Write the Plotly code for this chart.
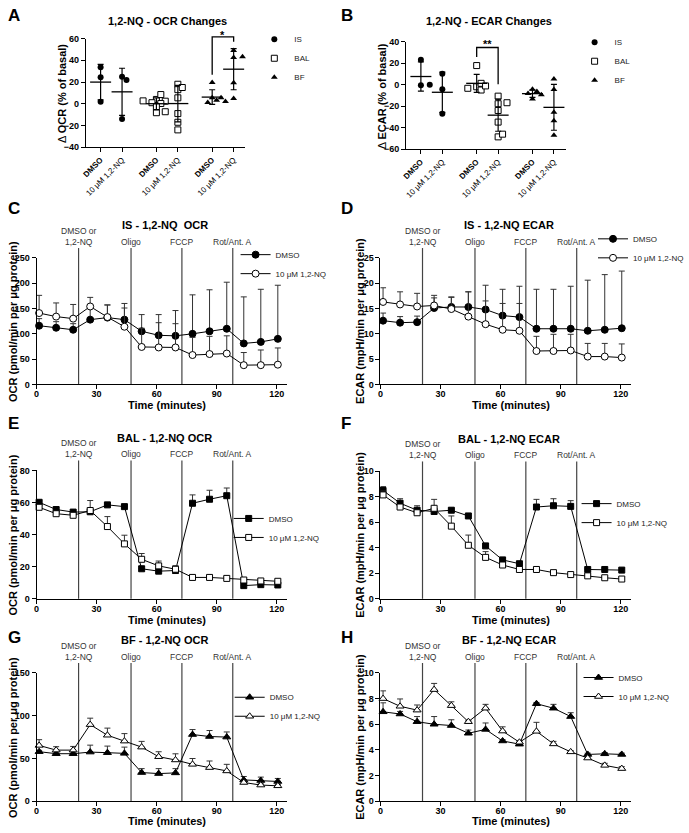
import numpy as np
import plotly.graph_objects as go

W, H = 689, 833
FONT = "Liberation Sans, Arial, Helvetica, sans-serif"

# ---------------- data: panels A / B (% change from basal) ----------------
group_names = ["IS", "BAL", "BF"]
treatment_labels = ["DMSO", "10 μM 1,2-NQ"]

ocr_is_dmso = [33.6, 24.5, 1.8]
ocr_is_nq = [25.0, 22.0, -14.0]
ocr_bal_dmso = [4.0, 8.5, 2.4, 0.3, 1.0, 2.7, -8.2, -7.3, -2.7]
ocr_bal_nq = [18.0, 13.0, 15.0, 5.5, -9.0, -17.0, -24.0]
ocr_bf_dmso = [19.5, 5.5, 3.3, 1.2, 2.0, 5.5]
ocr_bf_nq = [42.7, 43.3, 49.0, 19.4, 4.8]

ecar_is_dmso = [23.2, -0.6, 0.0]
ecar_is_nq = [10.0, -4.3, -27.0]
ecar_bal_dmso = [17.7, -2.0, 1.2, -5.0, -3.4, -1.2]
ecar_bal_nq = [-10.7, -24.0, -17.7, -16.8, -34.8, -48.5, -46.0]
ecar_bf_dmso = [-4.3, -6.4, -8.2, -13.4, -9.5]
ecar_bf_nq = [5.2, -4.6, -25.6, -33.5, -47.0]

# ---------------- data: Seahorse time courses ----------------
time_min = [1.3, 9.8, 18.3, 26.8, 35.4, 43.9, 52.5, 61.0, 69.4, 77.9, 86.4, 95.0, 103.5, 112.0, 120.5]
injection_times = [21.0, 47.2, 72.6, 98.0]
injection_labels = ["DMSO or<br>1,2-NQ", "Oligo", "FCCP", "Rot/Ant. A"]

is_ocr_dmso = [116, 112, 108, 128, 132, 128, 105, 97, 96, 100, 105, 110, 81, 84, 90]
is_ocr_dmso_err = [14, 12, 12, 25, 25, 32, 33, 41, 50, 77, 82, 92, 92, 104, 106]
is_ocr_nq = [141, 134, 130, 154, 133, 114, 74, 73, 73, 58, 60, 61, 38, 38, 39]
is_ocr_nq_err = [35, 27, 28, 18, 24, 37, 37, 49, 47, 35, 35, 35, 25, 30, 33]

is_ecar_dmso = [12.6, 12.2, 12.3, 15.1, 15.3, 15.3, 14.8, 13.6, 13.3, 11.0, 11.0, 11.0, 10.6, 10.8, 11.1]
is_ecar_dmso_err = [1.5, 1.2, 1.2, 2.0, 2.0, 3.0, 4.8, 5.2, 6.1, 7.8, 7.8, 8.4, 10.0, 10.9, 11.3]
is_ecar_nq = [16.3, 15.8, 15.4, 15.6, 14.9, 13.4, 11.9, 10.8, 10.6, 6.6, 6.6, 6.7, 5.5, 5.5, 5.3]
is_ecar_nq_err = [2.8, 2.5, 2.6, 2.0, 2.3, 4.9, 4.6, 5.2, 5.4, 2.9, 3.3, 3.2, 2.6, 2.6, 2.7]

bal_ocr_dmso = [60.1, 55.6, 54.0, 54.2, 58.5, 57.4, 18.7, 17.2, 17.6, 59.5, 62.0, 64.2, 8.2, 8.8, 8.6]
bal_ocr_dmso_err = [1.2, 1.2, 1.2, 1.5, 1.0, 1.0, 1.5, 1.5, 2.5, 5.2, 5.6, 4.8, 1.0, 1.0, 1.0]
bal_ocr_nq = [57.0, 53.0, 52.0, 55.0, 45.0, 34.2, 24.6, 20.5, 18.4, 13.3, 13.3, 12.7, 11.7, 11.1, 10.9]
bal_ocr_nq_err = [1.0, 1.0, 1.0, 6.2, 6.2, 5.4, 3.6, 3.0, 2.2, 0.8, 0.8, 0.8, 0.8, 0.8, 0.8]

bal_ecar_dmso = [8.5, 7.5, 6.95, 6.85, 6.95, 6.5, 4.15, 3.05, 2.75, 7.2, 7.3, 7.25, 2.3, 2.3, 2.25]
bal_ecar_dmso_err = [0.3, 0.35, 0.35, 0.2, 0.15, 0.15, 0.15, 0.15, 0.15, 0.6, 0.55, 0.45, 0.1, 0.1, 0.1]
bal_ecar_nq = [8.15, 7.2, 6.75, 7.1, 5.7, 4.2, 3.25, 2.65, 2.3, 2.3, 2.05, 1.9, 1.8, 1.65, 1.55]
bal_ecar_nq_err = [0.3, 0.2, 0.2, 0.7, 0.8, 0.8, 0.45, 0.15, 0.15, 0.1, 0.1, 0.1, 0.1, 0.1, 0.1]

bf_ocr_dmso = [58.0, 55.6, 55.6, 57.5, 56.8, 56.0, 33.6, 32.4, 33.2, 78.0, 75.7, 75.0, 25.0, 24.3, 23.2]
bf_ocr_dmso_err = [1.5, 2.0, 2.0, 8.1, 7.7, 7.3, 4.6, 5.8, 5.0, 5.8, 7.0, 6.0, 4.0, 4.0, 3.5]
bf_ocr_nq = [65.3, 59.8, 59.8, 89.6, 77.2, 70.3, 63.3, 52.1, 48.3, 43.2, 39.4, 35.5, 22.0, 19.0, 18.1]
bf_ocr_nq_err = [6.7, 4.0, 4.3, 7.5, 8.3, 8.8, 6.7, 5.8, 7.2, 6.8, 7.7, 7.7, 1.5, 1.5, 1.5]

bf_ecar_dmso = [6.97, 6.8, 6.2, 6.0, 5.9, 5.3, 5.6, 4.7, 4.45, 7.6, 7.25, 6.6, 3.65, 3.7, 3.65]
bf_ecar_dmso_err = [0.7, 0.2, 0.4, 0.6, 0.45, 0.25, 0.5, 0.1, 0.1, 0.1, 0.3, 0.3, 0.1, 0.1, 0.1]
bf_ecar_nq = [8.0, 7.4, 7.1, 8.7, 7.45, 6.2, 7.25, 5.47, 4.6, 5.45, 4.47, 3.85, 3.37, 2.8, 2.55]
bf_ecar_nq_err = [0.6, 0.57, 0.4, 0.48, 0.3, 0.1, 0.3, 0.33, 0.1, 0.7, 0.2, 0.1, 0.1, 0.16, 0.15]

# ---------------- geometry (pixels) ----------------
PANELS = {
    "A": dict(xd=(83, 245), yd=(34, 144), xr=(0.31, 7.75), yr=(-40, 60)),
    "B": dict(xd=(408, 570), yd=(37, 146), xr=(0.31, 7.75), yr=(-60, 40)),
    "C": dict(xd=(33, 287), yd=(256, 384), xr=(0, 125), yr=(0, 250), dt=50, tt=21),
    "D": dict(xd=(382, 636), yd=(256, 384), xr=(0, 125), yr=(0, 25), dt=5, tt=21),
    "E": dict(xd=(33, 287), yd=(471, 601), xr=(0, 125), yr=(0, 80), dt=20, tt=21),
    "F": dict(xd=(382, 636), yd=(472, 601), xr=(0, 125), yr=(0, 10), dt=2, tt=21),
    "G": dict(xd=(33, 287), yd=(676, 806), xr=(0, 125), yr=(0, 150), dt=50, tt=20),
    "H": dict(xd=(382, 636), yd=(676, 806), xr=(0, 125), yr=(0, 10), dt=2, tt=20),
}
KEYS = list("ABCDEFGH")
SFX = {k: ("" if i == 0 else str(i + 1)) for i, k in enumerate(KEYS)}


def xp(px):
    return px / W


def yp(py):
    return 1 - py / H


def d2px(key, xv, yv):
    p = PANELS[key]
    (x0, x1), (yt, yb) = p["xd"], p["yd"]
    (r0, r1), (s0, s1) = p["xr"], p["yr"]
    return (x0 + (xv - r0) / (r1 - r0) * (x1 - x0),
            yb - (yv - s0) / (s1 - s0) * (yb - yt))


fig = go.Figure()
layout = dict(
    width=W, height=H, autosize=False,
    margin=dict(l=0, r=0, t=0, b=0),
    paper_bgcolor="white", plot_bgcolor="white",
    font=dict(family=FONT, color="black"),
)

axis_common = dict(
    showline=True, linecolor="black", linewidth=1, ticks="outside", ticklen=4,
    tickwidth=1, tickcolor="black", showgrid=False, zeroline=False, fixedrange=True,
    tickfont=dict(family=FONT, size=9, color="black", weight="bold"),
)

group_centers = [1.0, 3.6, 6.2]
cat_ticks = [g + t for g in group_centers for t in (0, 1)]
cat_text = ["<b>DMSO</b>", "10 μM 1,2-NQ"] * 3

for k in KEYS:
    s = SFX[k]
    p = PANELS[k]
    xa = dict(axis_common, domain=[xp(p["xd"][0]), xp(p["xd"][1])], range=list(p["xr"]),
              anchor="y" + s)
    ya = dict(axis_common, domain=[yp(p["yd"][1]), yp(p["yd"][0])], range=list(p["yr"]),
              anchor="x" + s)
    if k in "AB":
        xa.update(tickmode="array", tickvals=cat_ticks, ticktext=cat_text, tickangle=-45,
                  tickfont=dict(family=FONT, size=8, color="black"))
        ya.update(tickmode="linear", tick0=p["yr"][0], dtick=20)
    else:
        xa.update(tickmode="array", tickvals=[0, 30, 60, 90, 120], ticklabelstandoff=-3)
        ya.update(tickmode="linear", tick0=0, dtick=p["dt"])
    layout["xaxis" + s] = xa
    layout["yaxis" + s] = ya


def swarm(values, ppu_x, ppu_y, d=5.0):
    placed, offs = [], []
    cands = [0.0]
    for j in range(1, 12):
        cands += [j * d * 0.9, -j * d * 0.9]
    for v in values:
        yv = v * ppu_y
        for c in cands:
            if all((c - a) ** 2 + (yv - b) ** 2 >= d * d for a, b in placed):
                break
        placed.append((c, yv))
        offs.append(c / ppu_x)
    return offs


dot_markers = [
    dict(symbol="circle", size=6, color="black", line=dict(color="black", width=0)),
    dict(symbol="square", size=6, color="white", line=dict(color="black", width=1)),
    dict(symbol="triangle-up", size=6, color="black", line=dict(color="black", width=0)),
]


def add_dot_panel(key, groups):
    s = SFX[key]
    p = PANELS[key]
    ppu_x = (p["xd"][1] - p["xd"][0]) / (p["xr"][1] - p["xr"][0])
    ppu_y = (p["yd"][1] - p["yd"][0]) / (p["yr"][1] - p["yr"][0])
    for g, pair in enumerate(groups):
        for t, vals in enumerate(pair):
            xc = group_centers[g] + t
            offs = swarm(vals, ppu_x, ppu_y)
            fig.add_trace(go.Scatter(
                x=[xc + o for o in offs], y=vals, mode="markers", marker=dot_markers[g],
                xaxis="x" + s, yaxis="y" + s, showlegend=False, hoverinfo="skip", cliponaxis=False))
            m = float(np.mean(vals))
            sd = float(np.std(vals, ddof=1))
            fig.add_trace(go.Scatter(
                x=[xc], y=[m], mode="markers",
                marker=dict(symbol="line-ew", size=15, color="black", line=dict(width=1.3, color="black")),
                error_y=dict(type="data", array=[sd], thickness=1.2, width=3, color="black"),
                xaxis="x" + s, yaxis="y" + s, showlegend=False, hoverinfo="skip", cliponaxis=False))
    for g in range(3):
        fig.add_trace(go.Scatter(
            x=[None], y=[None], mode="markers", marker=dot_markers[g], name=group_names[g],
            xaxis="x" + s, yaxis="y" + s, legend="legend" + s, showlegend=True))


add_dot_panel("A", [(ocr_is_dmso, ocr_is_nq), (ocr_bal_dmso, ocr_bal_nq), (ocr_bf_dmso, ocr_bf_nq)])
add_dot_panel("B", [(ecar_is_dmso, ecar_is_nq), (ecar_bal_dmso, ecar_bal_nq), (ecar_bf_dmso, ecar_bf_nq)])


def add_time_panel(key, dmso, dmso_err, nq, nq_err, symbol, size):
    s = SFX[key]
    for name, y, e, fill in [(treatment_labels[0], dmso, dmso_err, "black"),
                             (treatment_labels[1], nq, nq_err, "white")]:
        fig.add_trace(go.Scatter(
            x=time_min, y=y, mode="lines+markers", name=name,
            line=dict(color="black", width=1),
            marker=dict(symbol=symbol, size=size, color=fill, line=dict(color="black", width=1)),
            error_y=dict(type="data", symmetric=False, array=e, arrayminus=[0] * len(e),
                         color="#333333", thickness=1, width=3),
            xaxis="x" + s, yaxis="y" + s, legend="legend" + s, cliponaxis=False, hoverinfo="skip"))


add_time_panel("C", is_ocr_dmso, is_ocr_dmso_err, is_ocr_nq, is_ocr_nq_err, "circle", 7)
add_time_panel("D", is_ecar_dmso, is_ecar_dmso_err, is_ecar_nq, is_ecar_nq_err, "circle", 7)
add_time_panel("E", bal_ocr_dmso, bal_ocr_dmso_err, bal_ocr_nq, bal_ocr_nq_err, "square", 6)
add_time_panel("F", bal_ecar_dmso, bal_ecar_dmso_err, bal_ecar_nq, bal_ecar_nq_err, "square", 6)
add_time_panel("G", bf_ocr_dmso, bf_ocr_dmso_err, bf_ocr_nq, bf_ocr_nq_err, "triangle-up", 7)
add_time_panel("H", bf_ecar_dmso, bf_ecar_dmso_err, bf_ecar_nq, bf_ecar_nq_err, "triangle-up", 7)

# legends (top-left corner, pixels)
legend_pos = {"A": (254, 20), "B": (579, 23), "C": (235, 238), "D": (598, 222),
              "E": (228, 505), "F": (581, 490), "G": (229, 686), "H": (583, 666)}
for k, (lx, ly) in legend_pos.items():
    layout["legend" + SFX[k]] = dict(
        x=xp(lx), y=yp(ly), xanchor="left", yanchor="top", bgcolor="rgba(0,0,0,0)",
        borderwidth=0, itemwidth=30, tracegroupgap=0,
        font=dict(family=FONT, size=8, color="#222222"))

annotations = []
shapes = []


def ann(text, x, y, size=11, xanchor="center", yanchor="middle", angle=0, color="black"):
    annotations.append(dict(
        text=text, x=xp(x), y=yp(y), xref="paper", yref="paper", showarrow=False,
        xanchor=xanchor, yanchor=yanchor, textangle=angle,
        font=dict(family=FONT, size=size, color=color)))


# panel letters
for k, (x, y) in {"A": (2, 11), "B": (340, 11), "C": (2, 206), "D": (340, 206),
                  "E": (2, 424), "F": (340, 424), "G": (2, 640), "H": (340, 640)}.items():
    ann("<b>%s</b>" % k, x, y, size=17, xanchor="left")

# titles
ann("<b>1,2-NQ - OCR Changes</b>", 166, 16)
ann("<b>1,2-NQ - ECAR Changes</b>", 492, 16)
titles = {"C": "IS - 1,2-NQ  OCR", "D": "IS - 1,2-NQ ECAR", "E": "BAL - 1,2-NQ OCR",
          "F": "BAL - 1,2-NQ ECAR", "G": "BF - 1,2-NQ OCR", "H": "BF - 1,2-NQ ECAR"}
for k, t in titles.items():
    p = PANELS[k]
    ann("<b>%s</b>" % t, (p["xd"][0] + p["xd"][1]) / 2 + 3, p["yd"][0] - 33)

# y titles
ann("Δ <b>OCR (% of basal)</b>", 59, 90, angle=-90)
ann("Δ <b>ECAR (% of basal)</b>", 383, 92, angle=-90)
for k in "CDEFGH":
    p = PANELS[k]
    txt = "OCR (pmol/min per μg protein)" if k in "CEG" else "ECAR (mpH/min per μg protein)"
    xt = 9 if k in "CEG" else 361
    ann("<b>%s</b>" % txt, xt, (p["yd"][0] + p["yd"][1]) / 2, angle=-90)
    ann("<b>Time (minutes)</b>", (p["xd"][0] + p["xd"][1]) / 2 + 5, p["yd"][1] + p["tt"])

    # injection lines + labels
    yt, yb = p["yd"]
    for t, lab in zip(injection_times, injection_labels):
        xpx, _ = d2px(k, t, 0)
        shapes.append(dict(type="line", xref="paper", yref="paper",
                           x0=xp(xpx), x1=xp(xpx), y0=yp(yb), y1=yp(yt - 10),
                           line=dict(color="#444444", width=1.2), layer="below"))
        ann(lab, xpx, yt - 9, size=8.5, yanchor="bottom", color="#333333")


# significance brackets
def bracket(key, xl, yl, xr_, yr_, ytop, label, ylab):
    pts = [d2px(key, xl, yl), d2px(key, xl, ytop), d2px(key, xr_, ytop), d2px(key, xr_, yr_)]
    path = "M " + " L ".join("%f,%f" % (xp(a), yp(b)) for a, b in pts)
    shapes.append(dict(type="path", xref="paper", yref="paper", path=path,
                       line=dict(color="black", width=1.3)))
    lx, ly = d2px(key, (xl + xr_) / 2, ylab)
    ann("<b>%s</b>" % label, lx, ly, size=11)


bracket("A", group_centers[2], 26.7, group_centers[2] + 1, 57.0, 61.5, "*", 63.5)
bracket("B", group_centers[1], 25.7, group_centers[1] + 1, 0.3, 34.5, "**", 37.5)

layout["annotations"] = annotations
layout["shapes"] = shapes
fig.update_layout(**layout)
fig.write_html("out.html", config={"displayModeBar": False},
               post_script="document.body.style.margin='0';document.body.style.overflow='hidden';")
